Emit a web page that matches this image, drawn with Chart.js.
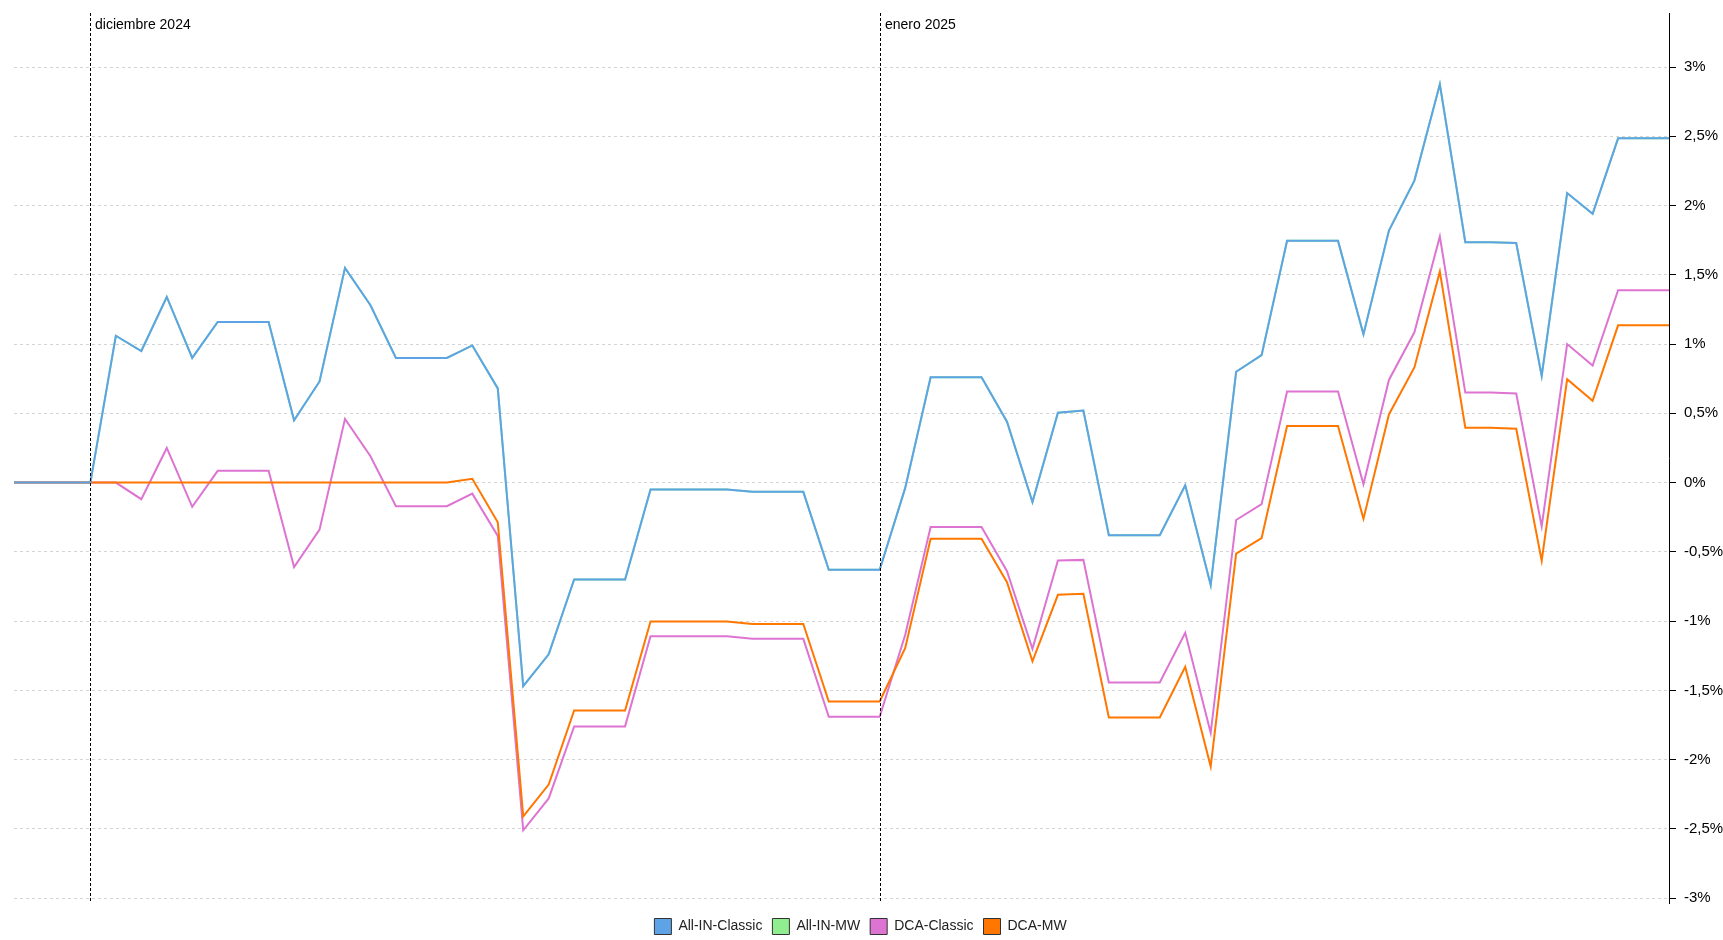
<!DOCTYPE html>
<html>
<head>
<meta charset="utf-8">
<script src="https://cdn.jsdelivr.net/npm/chart.js@4"></script>
<style>
  html, body { margin: 0; padding: 0; background: #fff; }
  #wrap { position: relative; width: 1723px; height: 940px; }
</style>
</head>
<body>
<div id="wrap"><canvas id="c"></canvas></div>
<script>
// ---- Data ----
const categories = [
  '2024-11-28','2024-11-29','2024-11-30',
  '2024-12-01','2024-12-02','2024-12-03','2024-12-04','2024-12-05','2024-12-06','2024-12-07','2024-12-08',
  '2024-12-09','2024-12-10','2024-12-11','2024-12-12','2024-12-13','2024-12-14','2024-12-15','2024-12-16',
  '2024-12-17','2024-12-18','2024-12-19','2024-12-20','2024-12-21','2024-12-22','2024-12-23','2024-12-24',
  '2024-12-25','2024-12-26','2024-12-27','2024-12-28','2024-12-29','2024-12-30','2024-12-31',
  '2025-01-01','2025-01-02','2025-01-03','2025-01-04','2025-01-05','2025-01-06','2025-01-07','2025-01-08',
  '2025-01-09','2025-01-10','2025-01-11','2025-01-12','2025-01-13','2025-01-14','2025-01-15','2025-01-16',
  '2025-01-17','2025-01-18','2025-01-19','2025-01-20','2025-01-21','2025-01-22','2025-01-23','2025-01-24',
  '2025-01-25','2025-01-26','2025-01-27','2025-01-28','2025-01-29','2025-01-30','2025-01-31','2025-02-01'
];

const allInClassic = [
  0, 0, 0, 0, 1.06, 0.95, 1.34, 0.90, 1.16, 1.16, 1.16, 0.45, 0.73, 1.55, 1.28, 0.90, 0.90, 0.90, 0.99, 0.68,
  -1.47, -1.24, -0.70, -0.70, -0.70, -0.05, -0.05, -0.05, -0.05, -0.067, -0.067, -0.067, -0.63, -0.63, -0.63,
  -0.04, 0.76, 0.76, 0.76, 0.44, -0.14, 0.505, 0.52, -0.38, -0.38, -0.38, -0.02, -0.74, 0.80, 0.92,
  1.745, 1.745, 1.745, 1.07, 1.82, 2.18, 2.875, 1.735, 1.735, 1.73, 0.77, 2.09, 1.94, 2.485, 2.485, 2.485
];

// All-IN-MW coincides with All-IN-Classic in the picture (hidden underneath it)
const allInMW = [
  0, 0, 0, 0, 1.06, 0.95, 1.34, 0.90, 1.16, 1.16, 1.16, 0.45, 0.73, 1.55, 1.28, 0.90, 0.90, 0.90, 0.99, 0.68,
  -1.47, -1.24, -0.70, -0.70, -0.70, -0.05, -0.05, -0.05, -0.05, -0.067, -0.067, -0.067, -0.63, -0.63, -0.63,
  -0.04, 0.76, 0.76, 0.76, 0.44, -0.14, 0.505, 0.52, -0.38, -0.38, -0.38, -0.02, -0.74, 0.80, 0.92,
  1.745, 1.745, 1.745, 1.07, 1.82, 2.18, 2.875, 1.735, 1.735, 1.73, 0.77, 2.09, 1.94, 2.485, 2.485, 2.485
];

const dcaClassic = [
  0, 0, 0, 0, 0, -0.12, 0.25, -0.175, 0.085, 0.085, 0.085, -0.61, -0.34, 0.46, 0.19, -0.17, -0.17, -0.17, -0.08, -0.385,
  -2.51, -2.28, -1.76, -1.76, -1.76, -1.11, -1.11, -1.11, -1.11, -1.128, -1.128, -1.128, -1.69, -1.69, -1.69,
  -1.10, -0.32, -0.32, -0.32, -0.64, -1.20, -0.563, -0.558, -1.443, -1.443, -1.443, -1.084, -1.806, -0.27, -0.156,
  0.657, 0.657, 0.657, -0.012, 0.741, 1.085, 1.776, 0.65, 0.65, 0.643, -0.317, 1.0, 0.845, 1.389, 1.389, 1.389
];

const dcaMW = [
  0, 0, 0, 0, 0, 0, 0, 0, 0, 0, 0, 0, 0, 0, 0, 0, 0, 0, 0.027, -0.286,
  -2.41, -2.18, -1.645, -1.645, -1.645, -1.003, -1.003, -1.003, -1.003, -1.02, -1.02, -1.02, -1.58, -1.58, -1.58,
  -1.195, -0.406, -0.406, -0.406, -0.719, -1.29, -0.81, -0.803, -1.696, -1.696, -1.696, -1.33, -2.05, -0.513, -0.40,
  0.409, 0.409, 0.409, -0.262, 0.492, 0.831, 1.523, 0.396, 0.396, 0.389, -0.563, 0.746, 0.591, 1.135, 1.135, 1.135
];

const seriesNames = ['All-IN-Classic', 'All-IN-MW', 'DCA-Classic', 'DCA-MW'];
const yTickValues = [-3, -2.5, -2, -1.5, -1, -0.5, 0, 0.5, 1, 1.5, 2, 2.5, 3];
const monthNames = ['enero','febrero','marzo','abril','mayo','junio','julio','agosto','septiembre','octubre','noviembre','diciembre'];

// ---- Month marker plugin ----
const monthMarkers = {
  id: 'monthMarkers',
  afterDatasetsDraw(chart) {
    const { ctx, chartArea, scales } = chart;
    const x = scales.x;
    ctx.save();
    categories.forEach((c, i) => {
      const [yy, mm, dd] = c.split('-');
      if (dd !== '01') return;
      if (i === 0 || i === categories.length - 1) return;
      const px = Math.round(x.getPixelForValue(i)) + 0.5;
      ctx.beginPath();
      ctx.setLineDash([3, 2]);
      ctx.strokeStyle = '#000';
      ctx.lineWidth = 1;
      ctx.moveTo(px, chartArea.top);
      ctx.lineTo(px, chartArea.bottom);
      ctx.stroke();
      ctx.setLineDash([]);
      ctx.fillStyle = '#000';
      ctx.font = '14px "Liberation Sans", Arial, sans-serif';
      ctx.textAlign = 'left';
      ctx.textBaseline = 'alphabetic';
      ctx.fillText(monthNames[parseInt(mm, 10) - 1] + ' ' + yy, px + 4.5, chartArea.top + 16);
    });
    ctx.restore();
  }
};

// shift the legend slightly left to match the reference placement
const legendShift = {
  id: 'legendShift',
  afterLayout(chart) {
    if (chart.legend) {
      chart.legend.left -= 8;
      chart.legend.right -= 8;
    }
  }
};

const colors = ['#5DA3E6', '#90EE90', '#DD74D2', '#FF7700'];
const dataArrays = [allInClassic, allInMW, dcaClassic, dcaMW];
const drawOrder = [0, 3, 2, 1];

new Chart(document.getElementById('c'), {
  type: 'line',
  data: {
    labels: categories,
    datasets: seriesNames.map((name, i) => ({
      label: name,
      data: dataArrays[i],
      borderColor: colors[i],
      backgroundColor: colors[i],
      borderWidth: 2,
      pointRadius: 0,
      pointHoverRadius: 0,
      tension: 0,
      fill: false,
      order: drawOrder[i]
    }))
  },
  options: {
    responsive: true,
    maintainAspectRatio: false,
    animation: false,
    layout: { padding: { left: 14, top: 13, right: 0, bottom: -4.5 } },
    plugins: {
      tooltip: { enabled: false },
      legend: {
        position: 'bottom',
        title: { display: true, text: '', font: { size: 1 }, padding: { top: 4.3, bottom: 0 } },
        labels: {
          sort: (a, b) => a.datasetIndex - b.datasetIndex,
          boxWidth: 17,
          boxHeight: 16,
          padding: 10,
          color: '#222',
          font: { family: '"Liberation Sans", Arial, sans-serif', size: 14 },
          generateLabels(chart) {
            return chart.data.datasets.map((ds, i) => ({
              text: ds.label,
              fillStyle: ds.backgroundColor,
              strokeStyle: '#333',
              lineWidth: 1,
              hidden: false,
              datasetIndex: i,
              fontColor: '#222'
            }));
          }
        }
      }
    },
    scales: {
      x: {
        type: 'category',
        display: false,
        offset: false,
        grid: { display: false }
      },
      y: {
        position: 'right',
        min: -3.035,
        max: 3.39,
        afterBuildTicks(scale) {
          scale.ticks = yTickValues.map(v => ({ value: v }));
        },
        afterFit(scale) {
          scale.width = 54;
          scale.paddingTop = 0;
          scale.paddingBottom = 0;
        },
        border: { display: true, color: '#000', width: 1, dash: [3, 3] },
        grid: {
          color: '#d4d4d4',
          lineWidth: 1,
          drawTicks: true,
          tickLength: 7,
          tickColor: '#000',
          tickWidth: 1,
          tickBorderDash: [1, 0]
        },
        ticks: {
          padding: 8,
          color: '#000',
          font: { family: '"Liberation Sans", Arial, sans-serif', size: 15 },
          callback: (v) => String(v).replace('.', ',') + '%'
        }
      }
    }
  },
  plugins: [monthMarkers, legendShift]
});
</script>
</body>
</html>
